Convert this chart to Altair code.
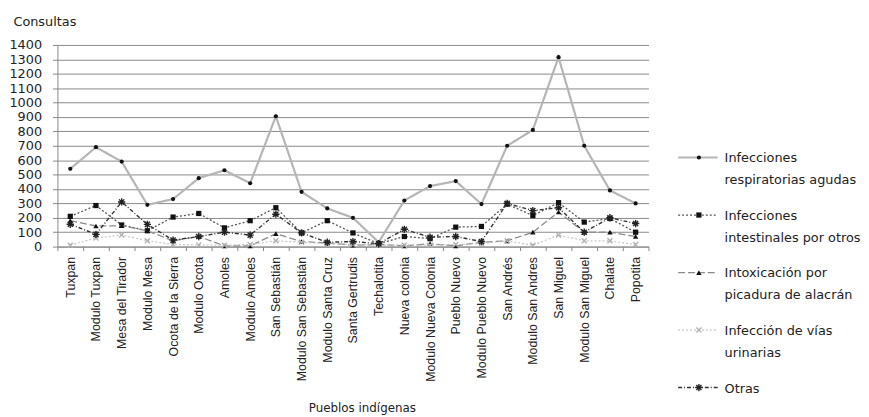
import altair as alt
import pandas as pd

places = ["Tuxpan", "Modulo Tuxpan", "Mesa del Tirador", "Modulo Mesa", "Ocota de la Sierra",
          "Modulo Ocota", "Amoles", "Modulo Amoles", "San Sebastián", "Modulo San Sebastián",
          "Modulo Santa Cruz", "Santa Gertrudis", "Techalotita", "Nueva colonia",
          "Modulo Nueva Colonia", "Pueblo Nuevo", "Modulo Pueblo Nuevo", "San Andrés",
          "Modulo San Andres", "San Miguel", "Modulo San Miguel", "Chalate", "Popotita"]

series_names = ["Infecciones respiratorias agudas", "Infecciones intestinales por otros",
                "Intoxicación por picadura de alacrán", "Infección de vías urinarias", "Otras"]
legend_labels = ["Infecciones\nrespiratorias agudas", "Infecciones\nintestinales por otros",
                 "Intoxicación por\npicadura de alacrán", "Infección de vías\nurinarias", "Otras"]

resp = [540, 690, 590, 290, 330, 475, 530, 440, 905, 380, 265, 200, 30, 320, 420, 455, 295,
        700, 810, 1315, 700, 390, 300]
intest = [210, 285, 150, 110, 205, 230, 130, 180, 270, 95, 180, 95, 20, 70, 55, 135, 140,
          295, 215, 305, 170, 195, 100]
intox = [180, 143, 145, 110, 40, 70, 5, 5, 90, 35, 25, 10, 15, 5, 20, 5, 30, 40, 100, 240,
         100, 100, 70]
vias = [10, 60, 80, 40, 15, 12, 10, 15, 40, 30, 20, 15, 10, 10, 10, 15, 20, 40, 10, 80, 40,
        40, 15]
otras = [155, 85, 310, 154, 45, 70, 100, 80, 225, 95, 30, 35, 20, 120, 65, 70, 35, 300, 250,
         270, 100, 200, 160]

values = [resp, intest, intox, vias, otras]

rows = []
for name, vals in zip(series_names, values):
    for p, v in zip(places, vals):
        rows.append({"serie": name, "lugar": p, "consultas": v})
df = pd.DataFrame(rows)

ASTERISK = "M-1,0L1,0M0,-1L0,1M-0.7,-0.7L0.7,0.7M-0.7,0.7L0.7,-0.7"
XMARK = "M-0.8,-0.8L0.8,0.8M-0.8,0.8L0.8,-0.8"

styles = [
    dict(stroke="#b5b5b5", width=2.2, dash=[1, 0], shape="circle", filled=True,
         mcolor="#111111", msize=18),
    dict(stroke="#555555", width=1.3, dash=[2, 2], shape="square", filled=True,
         mcolor="#111111", msize=28),
    dict(stroke="#8a8a8a", width=1.3, dash=[7, 3], shape="triangle-up", filled=True,
         mcolor="#111111", msize=30),
    dict(stroke="#c4c4c4", width=1.2, dash=[2, 2], shape=XMARK, filled=False,
         mcolor="#b0b0b0", msize=40),
    dict(stroke="#333333", width=1.4, dash=[4, 2, 1, 2], shape=ASTERISK, filled=False,
         mcolor="#222222", msize=55),
]

x_enc = alt.X("lugar:N", sort=places, scale=alt.Scale(type="band", paddingInner=0, paddingOuter=0),
              title="Pueblos indígenas",
              axis=alt.Axis(labelAngle=-90, labelFont="Liberation Sans", labelFontSize=12.5,
                            labelColor="#222222", labelPadding=6, tickBand="extent",
                            tickSize=4, tickColor="#888888", domainColor="#888888",
                            titleFont="DejaVu Sans", titleFontSize=12, titleFontWeight="normal",
                            titleColor="#222222", titlePadding=21, titleX=308, grid=False))
y_enc = alt.Y("consultas:Q", scale=alt.Scale(domain=[0, 1400], nice=False),
              axis=alt.Axis(values=list(range(0, 1401, 100)), format="d", title="Consultas",
                            titleAngle=0, titleAlign="left", titleBaseline="middle",
                            titleX=-45, titleY=-24, titleFont="DejaVu Sans", titleFontSize=13,
                            titleFontWeight="normal", titleColor="#222222",
                            labelFont="DejaVu Sans", labelFontSize=13, labelColor="#222222",
                            labelPadding=11, tickSize=5, tickColor="#888888",
                            domainColor="#888888", gridColor="#8a8a8a", gridWidth=1))

layers = []
for name, st in zip(series_names, styles):
    base = alt.Chart(df).transform_filter(alt.datum.serie == name)
    line = base.mark_line(stroke=st["stroke"], strokeWidth=st["width"],
                          strokeDash=st["dash"]).encode(x=x_enc, y=y_enc)
    if st["filled"]:
        pt = base.mark_point(shape=st["shape"], filled=True, fill=st["mcolor"],
                             size=st["msize"], opacity=1, strokeWidth=0)
    else:
        pt = base.mark_point(shape=st["shape"], filled=False, stroke=st["mcolor"],
                             size=st["msize"], opacity=1, strokeWidth=1.4)
    pt = pt.encode(x=x_enc, y=y_enc)
    layers.append(line)
    layers.append(pt)

main = alt.layer(*layers).properties(width=598, height=204)

# legend panel
leg_order = list(range(len(series_names)))
leg_df = pd.DataFrame({"serie": series_names, "label": legend_labels, "orden": leg_order})
y_leg = alt.Y("orden:Q", axis=None,
              scale=alt.Scale(domain=[-1.957, 4.23], nice=False, zero=False, reverse=True))
leg_layers = []
for name, st in zip(series_names, styles):
    b = alt.Chart(leg_df).transform_filter(alt.datum.serie == name)
    leg_layers.append(b.mark_rule(stroke=st["stroke"], strokeWidth=st["width"],
                                  strokeDash=st["dash"]).encode(
        x=alt.value(0), x2=alt.value(40), y=y_leg))
    if st["filled"]:
        m = b.mark_point(shape=st["shape"], filled=True, fill=st["mcolor"],
                         size=st["msize"], opacity=1, strokeWidth=0)
    else:
        m = b.mark_point(shape=st["shape"], filled=False, stroke=st["mcolor"],
                         size=st["msize"], opacity=1, strokeWidth=1.4)
    leg_layers.append(m.encode(x=alt.value(21), y=y_leg))
leg_layers.append(alt.Chart(leg_df).mark_text(
    align="left", baseline="alphabetic", dx=0, dy=5, lineBreak="\n", lineHeight=22,
    font="DejaVu Sans", fontSize=13, color="#222222").encode(
    x=alt.value(47), y=y_leg, text="label:N"))
legend = alt.layer(*leg_layers).properties(width=140, height=360)

chart = alt.hconcat(main, legend, spacing=27).configure(
    padding={"left": 0, "top": 5, "right": 0, "bottom": 0}, background="white"
).configure_view(stroke=None)

chart.save("out.html", embed_options={"renderer": "svg", "actions": False})
